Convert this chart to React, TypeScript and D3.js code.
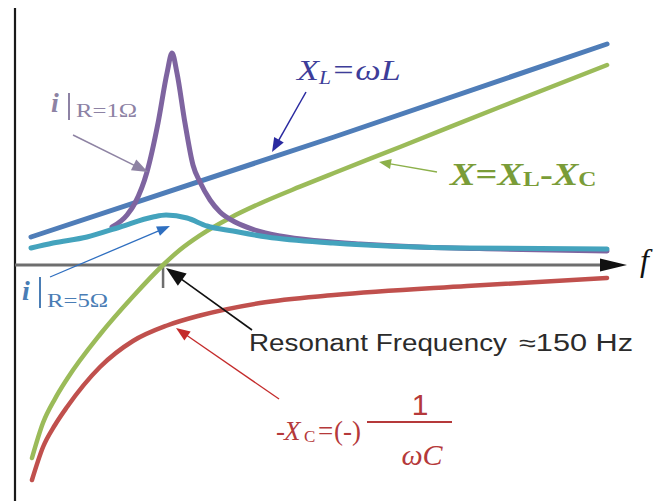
import React from "react";
import * as d3 from "d3";

const W = 668;
const H = 501;

// Frequency axis (Hz) and reactance / current (arbitrary units)
const xlFreq = [16.2, 323.2, 599.8];
const xlVals = [14, 64, 110.5];

const xFreq = [17.2, 28.4, 40.5, 52.7, 86.1, 119.5, 150, 167.2, 187.4, 217.8, 248.2, 288.7, 323.2, 390, 491.4, 599.8];
const xVals = [-96.5, -78.9, -66.9, -57, -34.75, -15.75, 0, 7.65, 14.85, 23.55, 30.75, 39.15, 46, 59, 79, 100];

const xcFreq = [17.2, 28.4, 40.5, 52.7, 86.1, 119.5, 154, 187.4, 248.2, 323.2, 457.9, 599.8];
const xcVals = [-107.5, -91, -80, -71, -51, -38, -30.25, -25.25, -19, -15, -10.5, -6.5];

const i5Freq = [16.2, 38.5, 72.9, 106.4, 139.8, 153, 174.3, 194.5, 220.9, 255.3, 322.2, 450.8, 599.8];
const i5Vals = [8.5, 11, 14, 19, 24, 25, 23.5, 19.5, 17, 14, 11, 8.5, 8];

const i1Freq = [98.3, 113.5, 121.6, 133.7, 144.9, 154, 159.1, 164.1, 172.2, 180.3, 187.4, 197.6, 207.7, 222.9, 243.1, 268.5, 309, 349.5, 410.3, 491.4, 599.8];
const i1Vals = [19, 25, 31, 46.5, 71, 96, 106, 96, 71, 50, 41.5, 32.5, 26.5, 21.5, 17.5, 14.5, 12, 10.5, 9, 8, 7];

const resonantHz = 150;

// annotation arrows: [fromHz, fromVal, toHz, toVal]
const arrowResonance = [240.1, -32.5, 153, -1.5];
const arrowXL = [294.8, 86.5, 260.4, 56.5];
const arrowX = [427.5, 46.5, 368.8, 51.5];
const arrowI1 = [58.8, 65, 134.7, 46.5];
const arrowI5 = [35.5, -6, 157, 19.5];
const arrowXC = [267.5, -67, 163.1, -31.5];

const xScale = d3.scaleLinear().domain([0, 620]).range([15, 627]);
const yScale = d3.scaleLinear().domain([-120, 130]).range([505, 5]);

const line = d3
  .line<[number, number]>()
  .x((d) => xScale(d[0]))
  .y((d) => yScale(d[1]))
  .curve(d3.curveMonotoneX);

const zip = (a: number[], b: number[]) => a.map((v, i) => [v, b[i]] as [number, number]);

function Arrow({ a, color, len, wid, sw }: { a: number[]; color: string; len: number; wid: number; sw: number }) {
  const x1 = xScale(a[0]);
  const y1 = yScale(a[1]);
  const x2 = xScale(a[2]);
  const y2 = yScale(a[3]);
  const dx = x2 - x1;
  const dy = y2 - y1;
  const d = Math.hypot(dx, dy);
  const ux = dx / d;
  const uy = dy / d;
  const bx = x2 - ux * len;
  const by = y2 - uy * len;
  const nx = -uy;
  const ny = ux;
  const pts = [
    [x2, y2],
    [bx + (nx * wid) / 2, by + (ny * wid) / 2],
    [bx - (nx * wid) / 2, by - (ny * wid) / 2],
  ]
    .map((p) => p.join(","))
    .join(" ");
  return (
    <g>
      <line x1={x1} y1={y1} x2={bx + ux * 2} y2={by + uy * 2} stroke={color} strokeWidth={sw} />
      <polygon points={pts} fill={color} />
    </g>
  );
}

const SERIF = '"Liberation Serif"';
const SANS = '"Liberation Sans"';
const serif = (size: number, extra: React.CSSProperties = {}): React.CSSProperties => ({
  fontFamily: SERIF,
  fontSize: size,
  ...extra,
});
const IT: React.CSSProperties = { fontStyle: "italic" };
const UP: React.CSSProperties = { fontStyle: "normal" };

export default function App() {
  const y0 = yScale(0);
  const xRes = xScale(resonantHz);
  return (
    <svg
      width={W}
      height={H}
      style={{ position: "absolute", left: 0, top: 0, background: "#fff" }}
      viewBox={`0 0 ${W} ${H}`}
    >
      {/* axes */}
      <line x1={xScale(0)} y1={8} x2={xScale(0)} y2={H} stroke="#1a1a1a" strokeWidth={2.2} />
      <line x1={xScale(0)} y1={y0} x2={601} y2={y0} stroke="#6e6e6e" strokeWidth={3} />
      <polygon points={`${xScale(620)},${y0} 600,${y0 - 6.5} 600,${y0 + 6.5}`} fill="#111" />
      <line x1={xRes} y1={y0} x2={xRes} y2={y0 + 23} stroke="#6e6e6e" strokeWidth={2.5} />
      <text x={640} y={271} style={serif(32, IT)} fill="#111">
        f
      </text>

      {/* curves */}
      <path d={line(zip(xFreq, xVals)) || ""} fill="none" stroke="#9bbb59" strokeWidth={4.5} strokeLinecap="round" />
      <path d={line(zip(xcFreq, xcVals)) || ""} fill="none" stroke="#c0504d" strokeWidth={4.5} strokeLinecap="round" />
      <path d={line(zip(xlFreq, xlVals)) || ""} fill="none" stroke="#4f7db8" strokeWidth={5} strokeLinecap="round" />
      <path d={line(zip(i1Freq, i1Vals)) || ""} fill="none" stroke="#7e64a0" strokeWidth={5} strokeLinecap="round" />
      <path d={line(zip(i5Freq, i5Vals)) || ""} fill="none" stroke="#44a3bd" strokeWidth={5} strokeLinecap="round" />

      {/* arrows */}
      <Arrow a={arrowResonance} color="#111" len={20} wid={15} sw={1.6} />
      <Arrow a={arrowXL} color="#2a2aa0" len={14} wid={11} sw={1.5} />
      <Arrow a={arrowX} color="#8cb04a" len={12} wid={10} sw={1.3} />
      <Arrow a={arrowI1} color="#8e83a3" len={16} wid={12} sw={1.5} />
      <Arrow a={arrowI5} color="#2f6fc0" len={13} wid={10} sw={1.3} />
      <Arrow a={arrowXC} color="#c42b2b" len={14} wid={11} sw={1.3} />

      {/* X_L = ωL */}
      <g transform="translate(297,80) scale(1.2,1)">
        <text style={serif(30, IT)} fill="#3d3d99">
          <tspan>X</tspan>
          <tspan style={{ fontSize: 18 }} dy={4}>L</tspan>
          <tspan dy={-4}>=ωL</tspan>
        </text>
      </g>

      {/* X = X_L - X_C */}
      <g transform="translate(450,185) scale(1.2,1)">
        <text style={serif(32, { fontWeight: "bold" })} fill="#7a9c38">
          <tspan style={IT}>X</tspan>
          <tspan>=</tspan>
          <tspan style={IT}>X</tspan>
          <tspan style={{ fontSize: 21 }} dy={1}>L</tspan>
          <tspan dy={-1}>-</tspan>
          <tspan style={IT}>X</tspan>
          <tspan style={{ fontSize: 21 }} dy={1}>C</tspan>
        </text>
      </g>

      {/* i | R=1Ω */}
      <text x={51} y={112} style={serif(28, { fontStyle: "italic", fontWeight: "bold" })} fill="#8d82a4">
        i
      </text>
      <line x1={69} y1={93} x2={69} y2={120} stroke="#8d82a4" strokeWidth={2} />
      <g transform="translate(76,117) scale(1.3,1)">
        <text style={serif(19, UP)} fill="#8d82a4">
          R=1Ω
        </text>
      </g>

      {/* i | R=5Ω */}
      <text x={22} y={300} style={serif(28, { fontStyle: "italic", fontWeight: "bold" })} fill="#4a7db5">
        i
      </text>
      <line x1={40} y1={277} x2={40} y2={308} stroke="#4a7db5" strokeWidth={2} />
      <g transform="translate(47,307) scale(1.3,1)">
        <text style={serif(19, UP)} fill="#4a7db5">
          R=5Ω
        </text>
      </g>

      {/* Resonant frequency */}
      <text
        x={249}
        y={351}
        style={{ fontFamily: SANS, fontSize: 23 }}
        fill="#2b2b2b"
        textLength={258}
        lengthAdjust="spacingAndGlyphs"
      >
        Resonant Frequency
      </text>
      <text
        x={519}
        y={351}
        style={{ fontFamily: SANS, fontSize: 23 }}
        fill="#2b2b2b"
        textLength={114}
        lengthAdjust="spacingAndGlyphs"
      >
        ≈150 Hz
      </text>

      {/* -X_C = (-) 1/ωC */}
      <g transform="translate(276,440)" fill="#b5393a">
        <text x={0} style={serif(27, UP)}>-</text>
        <text x={8} style={serif(27, IT)}>X</text>
        <text x={28} y={2} style={serif(17, UP)}>C</text>
        <text x={42} style={serif(27, UP)}>=</text>
        <text x={58} style={serif(27, UP)}>(-)</text>
      </g>
      <line x1={367} y1={422} x2={452} y2={422} stroke="#b5393a" strokeWidth={2} />
      <text x={420} y={415} style={{ fontFamily: SANS, fontSize: 30 }} fill="#b5393a" textAnchor="middle">
        1
      </text>
      <text x={422} y={465} style={serif(30, IT)} fill="#b5393a" textAnchor="middle">
        ωC
      </text>
    </svg>
  );
}
